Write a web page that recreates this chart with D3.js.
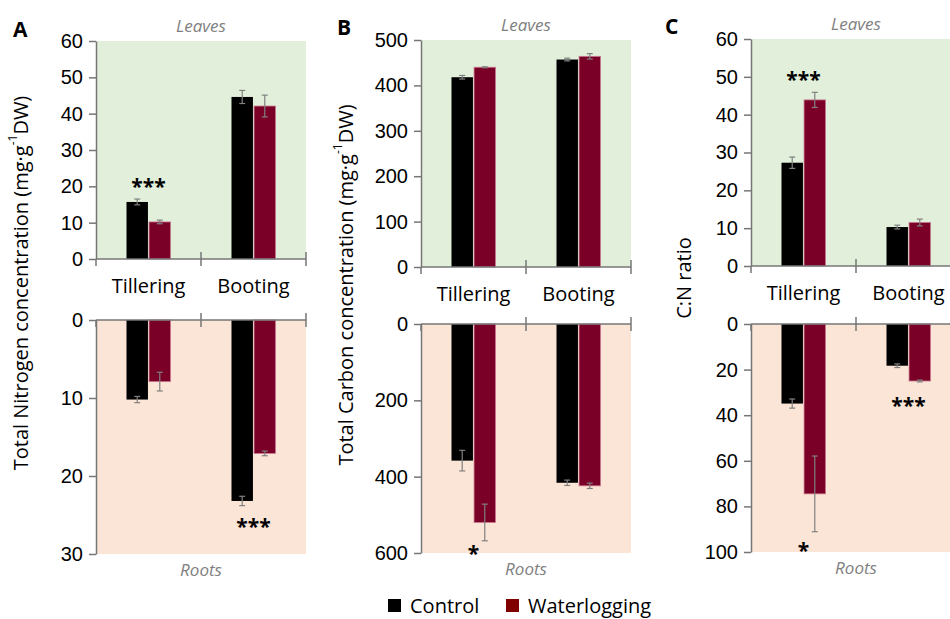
<!DOCTYPE html>
<html>
<head>
<meta charset="utf-8">
<script src="https://cdn.jsdelivr.net/npm/d3@7"></script>
<style>
  body { margin: 0; background: #fff; }
  svg { font-family: "Open Sans", sans-serif; display: block; }
  .axis path, .axis line { stroke: #767676; stroke-width: 1.5; }
  .axis text { font-size: 20px; fill: #000; }
</style>
</head>
<body>
<svg width="950" height="619"></svg>
<script>
var stages = ["Tillering", "Booting"];
var groups = ["Control", "Waterlogging"];

// A - total nitrogen (mg g-1 DW)
var nLeafCtrl = [15.7, 44.6], nLeafCtrlErr = [0.8, 1.8];
var nLeafWl = [10.2, 42.1], nLeafWlErr = [0.5, 3.0];
var nRootCtrl = [10.2, 23.2], nRootCtrlErr = [0.4, 0.6];
var nRootWl = [7.9, 17.1], nRootWlErr = [1.2, 0.3];

// B - total carbon (mg g-1 DW)
var cLeafCtrl = [418, 457], cLeafCtrlErr = [4, 3];
var cLeafWl = [440, 464], cLeafWlErr = [1, 6];
var cRootCtrl = [358, 416], cRootCtrlErr = [27, 7];
var cRootWl = [520, 424], cRootWlErr = [48, 7];

// C - C:N ratio
var cnLeafCtrl = [27.3, 10.3], cnLeafCtrlErr = [1.5, 0.5];
var cnLeafWl = [43.9, 11.5], cnLeafWlErr = [2.0, 0.9];
var cnRootCtrl = [34.9, 18.3], cnRootCtrlErr = [2.0, 0.8];
var cnRootWl = [74.5, 25.0], cnRootWlErr = [16.6, 0.4];

var nLeafTicks = [0, 10, 20, 30, 40, 50, 60], nRootTicks = [0, 10, 20, 30];
var cLeafTicks = [0, 100, 200, 300, 400, 500], cRootTicks = [0, 200, 400, 600];
var cnLeafTicks = [0, 10, 20, 30, 40, 50, 60], cnRootTicks = [0, 20, 40, 60, 80, 100];

// significance marks: panel, organ, stage, value where the mark sits
var stars = [
  [0, "leaf", "Tillering", 21, "***"],
  [0, "root", "Booting", 26, "***"],
  [1, "root", "Tillering", 591, "*"],
  [2, "leaf", "Tillering", 50.2, "***"],
  [2, "root", "Tillering", 97.7, "*"],
  [2, "root", "Booting", 34, "***"]
];

var svg = d3.select("svg");
var colors = d3.scaleOrdinal().domain(groups).range(["#000000", "#7a0028"]);

var panels = [
  {letter: "A", title: "Total Nitrogen concentration (mg·g", x0: 96, lt: 41, lb: 259, rt: 320, rb: 554,
   lx: 13, ly: 37, tx: 20, ty: 283,
   leaf: [nLeafCtrl, nLeafWl], leafErr: [nLeafCtrlErr, nLeafWlErr], leafTicks: nLeafTicks,
   root: [nRootCtrl, nRootWl], rootErr: [nRootCtrlErr, nRootWlErr], rootTicks: nRootTicks},
  {letter: "B", title: "Total Carbon concentration (mg·g", x0: 421, lt: 40, lb: 267, rt: 324, rb: 553,
   lx: 337, ly: 35, tx: 345, ty: 285,
   leaf: [cLeafCtrl, cLeafWl], leafErr: [cLeafCtrlErr, cLeafWlErr], leafTicks: cLeafTicks,
   root: [cRootCtrl, cRootWl], rootErr: [cRootCtrlErr, cRootWlErr], rootTicks: cRootTicks},
  {letter: "C", title: "C:N ratio", x0: 751, lt: 39, lb: 266, rt: 324, rb: 552,
   lx: 665, ly: 34, tx: 683, ty: 278,
   leaf: [cnLeafCtrl, cnLeafWl], leafErr: [cnLeafCtrlErr, cnLeafWlErr], leafTicks: cnLeafTicks,
   root: [cnRootCtrl, cnRootWl], rootErr: [cnRootCtrlErr, cnRootWlErr], rootTicks: cnRootTicks}
];

panels.forEach(function(p, pi) {
  var g = svg.append("g");
  var x = d3.scaleBand().domain(stages).range([p.x0, p.x0 + 210]);
  var sub = d3.scaleBand().domain(groups).range([-22, 22]).paddingInner(0.05);

  var yLeaf = d3.scaleLinear().domain([0, d3.max(p.leafTicks)]).range([p.lb, p.lt]);
  var yRoot = d3.scaleLinear().domain([0, d3.max(p.rootTicks)]).range([p.rt, p.rb]);

  // backgrounds
  g.append("rect").attr("x", p.x0).attr("y", p.lt).attr("width", 210).attr("height", p.lb - p.lt)
    .attr("fill", "#e2efda");
  g.append("rect").attr("x", p.x0).attr("y", p.rt).attr("width", 210).attr("height", p.rb - p.rt)
    .attr("fill", "#fbe5d6");

  function drawPart(vals, errs, y, base, down) {
    groups.forEach(function(grp, gi) {
      var data = stages.map(function(s, si) { return {s: s, v: vals[gi][si], e: errs[gi][si]}; });
      g.selectAll(null).data(data).enter().append("rect")
        .attr("x", function(d) { return x(d.s) + x.bandwidth() / 2 + sub(grp); })
        .attr("width", sub.bandwidth())
        .attr("y", function(d) { return down ? base : y(d.v); })
        .attr("height", function(d) { return Math.abs(y(d.v) - base); })
        .attr("fill", colors(grp))
        .attr("stroke", gi == 1 ? "#c9788f" : "none")
        .attr("stroke-width", 0.8);
      // error bars
      var eb = g.selectAll(null).data(data).enter().append("g")
        .attr("transform", function(d) {
          return "translate(" + (x(d.s) + x.bandwidth() / 2 + sub(grp) + sub.bandwidth() / 2) + ",0)";
        })
        .attr("stroke", "#808080").attr("stroke-width", 1.2);
      eb.append("line").attr("y1", function(d) { return y(d.v - d.e); }).attr("y2", function(d) { return y(d.v + d.e); });
      eb.append("line").attr("x1", -3).attr("x2", 3).attr("y1", function(d) { return y(d.v - d.e); }).attr("y2", function(d) { return y(d.v - d.e); });
      eb.append("line").attr("x1", -3).attr("x2", 3).attr("y1", function(d) { return y(d.v + d.e); }).attr("y2", function(d) { return y(d.v + d.e); });
    });
  }
  drawPart(p.leaf, p.leafErr, yLeaf, p.lb, false);
  drawPart(p.root, p.rootErr, yRoot, p.rt, true);

  // y axes
  g.append("g").attr("class", "axis").attr("transform", "translate(" + p.x0 + ",0)")
    .call(d3.axisLeft(yLeaf).tickValues(p.leafTicks).tickSize(7).tickPadding(6).tickSizeOuter(0));
  g.append("g").attr("class", "axis").attr("transform", "translate(" + p.x0 + ",0)")
    .call(d3.axisLeft(yRoot).tickValues(p.rootTicks).tickSize(7).tickPadding(6).tickSizeOuter(0));

  // category axes with crossing ticks at band edges
  [p.lb, p.rt].forEach(function(yy) {
    var ax = g.append("g").attr("class", "axis");
    ax.append("line").attr("x1", p.x0).attr("x2", p.x0 + 210).attr("y1", yy).attr("y2", yy);
    ax.selectAll(null).data([x.range()[0], x.range()[0] + x.step(), x.range()[1]]).enter().append("line")
      .attr("x1", function(d) { return d; }).attr("x2", function(d) { return d; })
      .attr("y1", function(d, i) { return i == 0 ? yy : yy - 7; }).attr("y2", yy + 7);
  });

  g.selectAll(null).data(stages).enter().append("text")
    .attr("x", function(d) { return x(d) + x.bandwidth() / 2; })
    .attr("y", p.lb + 34)
    .attr("text-anchor", "middle").attr("font-size", 20)
    .text(function(d) { return d; });

  g.append("text").attr("x", p.x0 + 105).attr("y", p.lt - 9).attr("text-anchor", "middle")
    .attr("font-size", 17).attr("font-style", "italic").attr("fill", "#808080").text("Leaves");
  g.append("text").attr("x", p.x0 + 105).attr("y", p.rb + 22).attr("text-anchor", "middle")
    .attr("font-size", 17).attr("font-style", "italic").attr("fill", "#808080").text("Roots");

  g.append("text").attr("x", p.lx).attr("y", p.ly).attr("font-size", 21).attr("font-weight", "bold")
    .text(p.letter);

  var t = g.append("text").attr("transform", "translate(" + p.tx + "," + p.ty + ") rotate(-90)")
    .attr("text-anchor", "middle").attr("dominant-baseline", "central").attr("font-size", 20);
  t.append("tspan").text(p.title);
  if (pi < 2) {
    t.append("tspan").attr("font-size", 12).attr("dy", -8).text("-1");
    t.append("tspan").attr("dy", 8).text("DW)");
  }

  stars.filter(function(s) { return s[0] == pi; }).forEach(function(s) {
    var y = s[1] == "leaf" ? yLeaf : yRoot;
    g.append("text").attr("x", x(s[2]) + x.bandwidth() / 2).attr("y", y(s[3]) + 11)
      .attr("text-anchor", "middle").attr("font-size", 21).attr("font-weight", "bold")
      .text(s[4]);
  });
});

// legend
var lg = svg.append("g").attr("transform", "translate(388,599)");
var li = lg.selectAll("g").data(groups).enter().append("g")
  .attr("transform", function(d, i) { return "translate(" + (i * 118) + ",0)"; });
li.append("rect").attr("width", 13).attr("height", 13)
  .attr("fill", function(d, i) { return i == 0 ? "#000" : "#800000"; });
li.append("text").attr("x", 22).attr("y", 14).attr("font-size", 20).text(function(d) { return d; });
</script>
</body>
</html>
